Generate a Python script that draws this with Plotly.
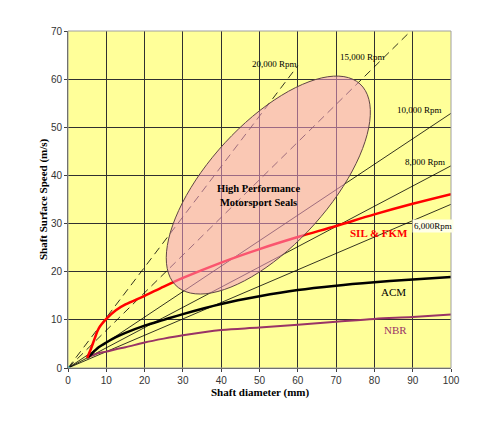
import numpy as np
import plotly.graph_objects as go

# Shaft diameter (mm) and seal speed limits (m/s)
DIAMETER = [5, 6, 7, 8, 10, 12.5, 15, 20, 25, 30, 40, 50, 60, 70, 80, 90, 100]
SIL_FKM = [2.1, 4.0, 6.2, 8.2, 10.2, 12.0, 13.2, 15.0, 16.9, 18.7, 21.9, 24.7, 27.2, 29.5, 31.9, 34.1, 36.1]
ACM = [2.1, 2.8, 3.6, 4.3, 5.3, 6.4, 7.3, 8.8, 10.0, 11.2, 13.3, 14.9, 16.2, 17.1, 17.8, 18.4, 18.9]
NBR = [2.1, 2.5, 2.8, 3.1, 3.4, 3.9, 4.3, 5.3, 6.1, 6.8, 7.9, 8.4, 9.0, 9.6, 10.2, 10.6, 11.1]

# constant-rpm reference lines: start at origin, end point
RPM_NAMES = ["6,000 Rpm", "8,000 Rpm", "10,000 Rpm", "15,000 Rpm", "20,000 Rpm"]
RPM_X_END = [100, 100, 100, 89.5, 60]
RPM_Y_END = [34.0, 42.0, 52.9, 70.0, 62.8]
RPM_DASH = ["solid", "solid", "solid", "8px,5px", "8px,5px"]

L, R, T, B = 68, 49, 31, 75
W, H = 500, 443
PX_X = (W - L - R) / 100.0
PX_Y = (H - T - B) / 70.0

SERIF = "Liberation Serif, Times New Roman, serif"
SANS = "Liberation Sans, Arial, sans-serif"

fig = go.Figure()

for name, xe, ye, dash in zip(RPM_NAMES, RPM_X_END, RPM_Y_END, RPM_DASH):
  fig.add_trace(go.Scatter(
    x=[0, xe], y=[0, ye], mode="lines", name=name,
    line=dict(color="black", width=0.8, dash=dash),
  ))

fig.add_trace(go.Scatter(x=DIAMETER, y=NBR, mode="lines", name="NBR",
                         line=dict(color="#993366", width=2, shape="spline")))
fig.add_trace(go.Scatter(x=DIAMETER, y=ACM, mode="lines", name="ACM",
                         line=dict(color="black", width=2.5, shape="spline")))
fig.add_trace(go.Scatter(x=DIAMETER, y=SIL_FKM, mode="lines", name="SIL & FKM",
                         line=dict(color="#FF0000", width=2.5, shape="spline")))
fig.add_trace(go.Scatter(x=[0], y=[0], mode="markers",
                         marker=dict(color="#00CCCC", size=4)))

# rotated ellipse marking the motorsport region (axes in screen pixels)
cx, cy, a, b, ang = 52.3, 38.0, 136.5, 60.5, np.radians(47.8)
phi = np.linspace(0, 2 * np.pi, 90)
ex = cx + (a * np.cos(phi) * np.cos(ang) - b * np.sin(phi) * np.sin(ang)) / PX_X
ey = cy + (a * np.cos(phi) * np.sin(ang) + b * np.sin(phi) * np.cos(ang)) / PX_Y
path = "M " + " L ".join(f"{x:.3f},{y:.3f}" for x, y in zip(ex, ey)) + " Z"

fig.add_shape(type="path", path=path, xref="x", yref="y", layer="above",
              fillcolor="rgba(245,155,202,0.55)",
              line=dict(color="#604545", width=1))
fig.add_shape(type="rect", xref="paper", yref="paper", x0=0, y0=0, x1=1, y1=1,
              layer="above", line=dict(color="#A0A0A0", width=1))

notes = [
  (49.8, 35.8, "<b>High Performance<br>Motorsport Seals</b>", 10.5, "black"),
  (53.9, 63.1, "20,000 Rpm", 9, "black"),
  (76.9, 64.5, "15,000 Rpm", 9, "black"),
  (91.9, 53.6, "10,000 Rpm", 9, "black"),
  (93.2, 42.8, "8,000 Rpm", 9, "black"),
  (81.2, 28.0, "<b>SIL &amp; FKM</b>", 11, "#FF0000"),
  (85.1, 15.7, "ACM", 11, "black"),
  (85.6, 7.9, "NBR", 11, "#993366"),
]
for x, y, txt, size, color in notes:
  fig.add_annotation(x=x, y=y, text=txt, showarrow=False,
                     font=dict(family=SERIF, size=size, color=color))

fig.add_annotation(x=95.4, y=29.6, text="6,000Rpm", showarrow=False,
                   bgcolor="#FFFFE8", borderpad=1,
                   font=dict(family=SERIF, size=9, color="black"))

fig.add_annotation(x=0.5, y=-0.099, xref="paper", yref="paper",
                   text="<b>Shaft diameter (mm)</b>", showarrow=False,
                   font=dict(family=SERIF, size=11, color="black"))
fig.add_annotation(x=-0.086, y=0.5, xref="paper", yref="paper", textangle=-90,
                   text="<b>Shaft Surface Speed (m/s)</b>", showarrow=False,
                   font=dict(family=SERIF, size=11, color="black"))

fig.update_layout(
  width=W, height=H,
  margin=dict(l=L, r=R, t=T, b=B),
  paper_bgcolor="white",
  plot_bgcolor="#FFFF99",
  showlegend=False,
  font=dict(family=SANS, size=10, color="#333333"),
)
fig.update_xaxes(
  range=[0, 100], dtick=10, showgrid=True, gridcolor="#303030", gridwidth=1,
  zeroline=False, showline=True, linecolor="#404040", linewidth=1,
  ticks="outside", ticklen=3, tickcolor="#404040",
)
fig.update_yaxes(
  range=[0, 70], dtick=10, showgrid=True, gridcolor="#303030", gridwidth=1,
  zeroline=False, showline=True, linecolor="#404040", linewidth=1,
  ticks="outside", ticklen=3, tickcolor="#404040",
)

# drop the default page margin so the figure sits at the window's corner
fig.write_html("out.html", config={"displayModeBar": False},
               post_script="document.body.style.margin='0px';")
